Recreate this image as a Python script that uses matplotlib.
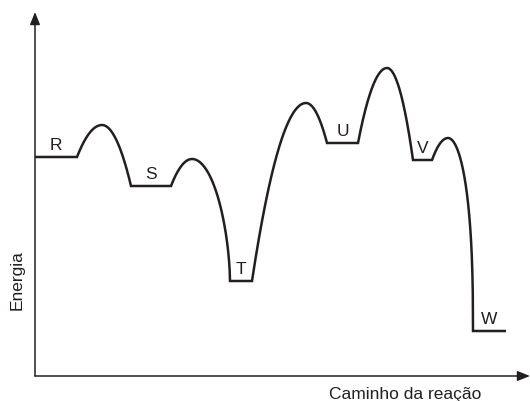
import numpy as np
import matplotlib
matplotlib.use("Agg")
import matplotlib.pyplot as plt

# ---- data (reaction coordinate / energy, arbitrary units) ----
states = ["R", "S", "T", "U", "V", "W"]
plateau_start = [0, 96, 195, 292, 378, 438]
plateau_end = [42, 136, 217, 323, 397, 471]
state_energy = [219, 190, 95, 233, 216, 45]
ts_x = [67, 157, 271, 352, 413]
ts_energy = [251, 217, 273, 308, 238]

x_label = "Caminho da reação"
y_label = "Energia"

# ---- drawing geometry ----
rise_shape = [1.0, 1.0, 1.0, 1.0, 1.0]
fall_shape = [1.0, 0.6, 1.0, 1.0, 0.4]

plt.rcParams["font.family"] = ["Liberation Sans", "DejaVu Sans"]
ink = "#231f20"

W, H = 530, 401
fig = plt.figure(figsize=(W / 100, H / 100), dpi=100)
fig.patch.set_facecolor("white")
ax = fig.add_axes([35 / W, 25 / H, 495 / W, 364 / H])
ax.set_xlim(0, 495)
ax.set_ylim(0, 364)
ax.axis("off")


def side(x_base, y_base, x_peak, y_peak, a, n=120):
    xs = np.linspace(x_base, x_peak, n)
    u = np.abs(xs - x_peak) / abs(x_peak - x_base)
    ys = y_base + (y_peak - y_base) * np.clip(1 - u ** 2, 0, 1) ** a
    return xs, ys


px, py = [], []
for i in range(len(states)):
    px += [plateau_start[i], plateau_end[i]]
    py += [state_energy[i], state_energy[i]]
    if i < len(ts_x):
        xs, ys = side(plateau_end[i], state_energy[i], ts_x[i], ts_energy[i], rise_shape[i])
        px += list(xs[1:])
        py += list(ys[1:])
        xs, ys = side(plateau_start[i + 1], state_energy[i + 1], ts_x[i], ts_energy[i], fall_shape[i])
        px += list(xs[::-1][1:-1])
        py += list(ys[::-1][1:-1])

ax.plot(px, py, color=ink, lw=1.8, solid_joinstyle="miter", solid_capstyle="butt",
        clip_on=False)

for name, s, e, y in zip(states, plateau_start, plateau_end, state_energy):
    ax.text((s + e) / 2, y + 7, name, ha="center", va="baseline", fontsize=12.5, color=ink)

# axes arrows
arrow = dict(arrowstyle="-|>,head_length=0.75,head_width=0.3", color=ink, lw=1.1,
             shrinkA=0, shrinkB=0)
ax.annotate("", xy=(0, 1), xytext=(0, 0), xycoords="axes fraction",
            arrowprops=arrow, annotation_clip=False)
ax.annotate("", xy=(1, 0), xytext=(0, 0), xycoords="axes fraction",
            arrowprops=arrow, annotation_clip=False)

fig.text(405 / W, 2 / H, x_label, ha="center", va="baseline", fontsize=12.5, color=ink)
fig.text(17 / W, (H - 280) / H, y_label, ha="center", va="center", rotation=90,
         fontsize=12.5, color=ink)

fig.savefig("out.png", dpi=100, facecolor="white")
